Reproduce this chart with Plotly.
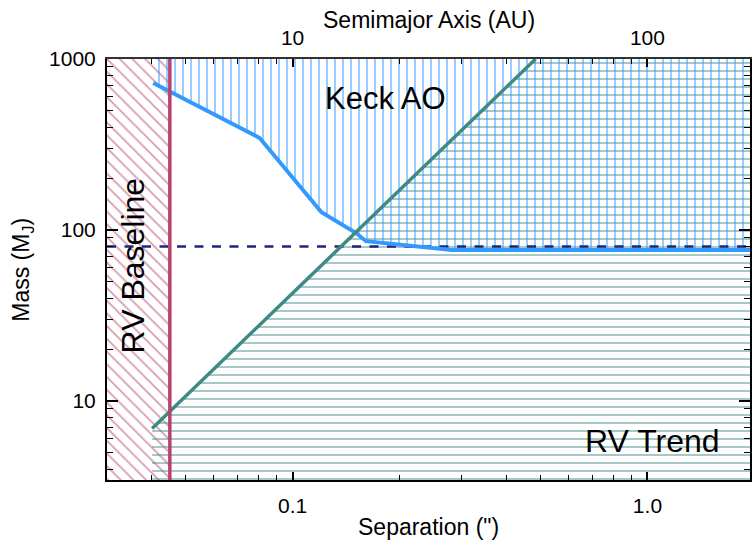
import math
import plotly.graph_objects as go

# Axis limits: projected separation (arcsec) and companion mass (M_J)
X_MIN, X_MAX = 0.03, 1.945
Y_MIN, Y_MAX = 3.45, 1000.0
AU_PER_ARCSEC = 100.0  # distance of ~100 pc

# Keck AO detection limit
keck_sep = [0.0405, 0.0808, 0.1206, 0.151, 0.161, 0.232, 0.281, X_MAX]
keck_mass = [724, 345, 127, 96, 86, 79.6, 76.4, 76.4]

# RV trend limit (straight line in log-log space, M ~ a^2)
trend_sep = [0.0402, 0.484]
trend_mass = [6.9, 1000]

# RV time baseline cutoff and hydrogen-burning limit
baseline_sep = 0.0451
hbl_mass = 80

# Tick positions
x_major = [0.1, 1.0]
x_major_text = ["0.1", "1.0"]
x_minor = [0.04, 0.05, 0.06, 0.07, 0.08, 0.09, 0.2, 0.3, 0.4, 0.5, 0.6, 0.7, 0.8, 0.9]
au_major = [10, 100]
au_minor = [4, 5, 6, 7, 8, 9, 20, 30, 40, 50, 60, 70, 80, 90]
y_major = [10, 100, 1000]
y_minor = [4, 5, 6, 7, 8, 9, 20, 30, 40, 50, 60, 70, 80, 90,
           200, 300, 400, 500, 600, 700, 800, 900]

RED = "#b8426f"
RED_HATCH = "#b03a69"
BLUE = "#3399ff"
TEAL = "#3f8a84"
TEAL_HATCH = "#4a948f"
NAVY = "#1c2580"
CLEAR = "rgba(0,0,0,0)"
FONT = "Liberation Sans, Arial, Helvetica, sans-serif"

fig = go.Figure()

# RV baseline exclusion region
fig.add_trace(go.Scatter(
    x=[X_MIN, baseline_sep, baseline_sep, X_MIN, X_MIN],
    y=[Y_MIN, Y_MIN, Y_MAX, Y_MAX, Y_MIN],
    fill="toself", mode="none", fillcolor=CLEAR,
    fillpattern=dict(shape="\\", fgcolor=RED_HATCH, bgcolor=CLEAR, size=9, solidity=0.2),
    hoverinfo="skip"))

# RV trend region (below the trend line)
fig.add_trace(go.Scatter(
    x=[trend_sep[0], trend_sep[1], X_MAX, X_MAX, trend_sep[0], trend_sep[0]],
    y=[trend_mass[0], trend_mass[1], Y_MAX, Y_MIN, Y_MIN, trend_mass[0]],
    fill="toself", mode="none", fillcolor=CLEAR,
    fillpattern=dict(shape="-", fgcolor=TEAL_HATCH, bgcolor=CLEAR, size=8, solidity=0.25),
    hoverinfo="skip"))

# Keck AO region (above the contrast curve)
fig.add_trace(go.Scatter(
    x=[keck_sep[0]] + keck_sep + [X_MAX, keck_sep[0]],
    y=[Y_MAX] + keck_mass + [Y_MAX, Y_MAX],
    fill="toself", mode="none", fillcolor=CLEAR,
    fillpattern=dict(shape="|", fgcolor=BLUE, bgcolor=CLEAR, size=8, solidity=0.25),
    hoverinfo="skip"))

# Hydrogen-burning limit
fig.add_trace(go.Scatter(
    x=[X_MIN, X_MAX], y=[hbl_mass, hbl_mass], mode="lines",
    line=dict(color=NAVY, width=2.5, dash="9px,8.5px"), hoverinfo="skip"))

# Keck AO contrast curve
fig.add_trace(go.Scatter(
    x=keck_sep, y=keck_mass, mode="lines",
    line=dict(color=BLUE, width=4), hoverinfo="skip"))

# RV trend line
fig.add_trace(go.Scatter(
    x=trend_sep, y=trend_mass, mode="lines",
    line=dict(color=TEAL, width=3.5), hoverinfo="skip"))

# RV baseline line
fig.add_trace(go.Scatter(
    x=[baseline_sep, baseline_sep], y=[Y_MIN, Y_MAX], mode="lines",
    line=dict(color=RED, width=3.5), hoverinfo="skip"))

# Anchor trace for the semimajor-axis axis
fig.add_trace(go.Scatter(
    x=[10], y=[10], xaxis="x2", mode="markers",
    marker=dict(opacity=0), hoverinfo="skip"))

tickfont = dict(family=FONT, size=21, color="black")

fig.update_layout(
    width=752, height=543,
    margin=dict(l=107, r=0, t=59, b=63),
    paper_bgcolor="white", plot_bgcolor="white",
    showlegend=False,
    font=dict(family=FONT, color="black"),
    xaxis=dict(
        type="log", range=[math.log10(X_MIN), math.log10(X_MAX)],
        tickmode="array", tickvals=x_major, ticktext=x_major_text,
        ticks="inside", ticklen=8, tickwidth=1.5, tickcolor="black",
        minor=dict(tickmode="array", tickvals=x_minor, ticks="inside",
                   ticklen=5, tickwidth=1.2, tickcolor="black", showgrid=False),
        showline=True, linecolor="black", linewidth=2,
        showgrid=False, zeroline=False, tickfont=tickfont,
        ticklabelstandoff=6),
    xaxis2=dict(
        type="log", overlaying="x", side="top", anchor="y",
        range=[math.log10(X_MIN * AU_PER_ARCSEC), math.log10(X_MAX * AU_PER_ARCSEC)],
        tickmode="array", tickvals=au_major, ticktext=[str(v) for v in au_major],
        ticks="inside", ticklen=8, tickwidth=1.5, tickcolor="black",
        minor=dict(tickmode="array", tickvals=au_minor, ticks="inside",
                   ticklen=5, tickwidth=1.2, tickcolor="black", showgrid=False),
        showline=True, linecolor="#333333", linewidth=1.5,
        showgrid=False, zeroline=False, tickfont=tickfont,
        ticklabelstandoff=4),
    yaxis=dict(
        type="log", range=[math.log10(Y_MIN), math.log10(Y_MAX)],
        tickmode="array", tickvals=y_major, ticktext=[str(v) for v in y_major],
        ticks="inside", ticklen=11, tickwidth=1.5, tickcolor="black",
        minor=dict(tickmode="array", tickvals=y_minor, ticks="inside",
                   ticklen=6, tickwidth=1.2, tickcolor="black", showgrid=False),
        showline=True, linecolor="black", linewidth=2, mirror="ticks",
        showgrid=False, zeroline=False, tickfont=tickfont,
        ticklabelstandoff=5),
)

annotations = [
    # axis titles
    dict(text="Semimajor Axis (AU)", xref="paper", yref="paper", x=0.5, y=1.0926,
         xanchor="center", yanchor="middle", showarrow=False, font=dict(size=23)),
    dict(text="Separation (\")", xref="paper", yref="paper", x=0.5, y=-0.1116,
         xanchor="center", yanchor="middle", showarrow=False, font=dict(size=23)),
    dict(text="Mass (M<sub>J</sub>)", xref="paper", yref="paper", x=-0.1318, y=0.50,
         xanchor="center", yanchor="middle", textangle=-90, showarrow=False,
         font=dict(size=23)),
    # region labels
    dict(text="Keck AO", x=math.log10(0.1824), y=math.log10(591),
         xanchor="center", yanchor="middle", showarrow=False, font=dict(size=31)),
    dict(text="RV Trend", x=math.log10(1.033), y=math.log10(5.83),
         xanchor="center", yanchor="middle", showarrow=False, font=dict(size=32)),
    dict(text="RV Baseline", x=math.log10(0.0356), y=math.log10(62.4),
         xanchor="center", yanchor="middle", textangle=-90, showarrow=False,
         font=dict(size=32)),
]
fig.update_layout(annotations=annotations)

fig.write_html("out.html")
